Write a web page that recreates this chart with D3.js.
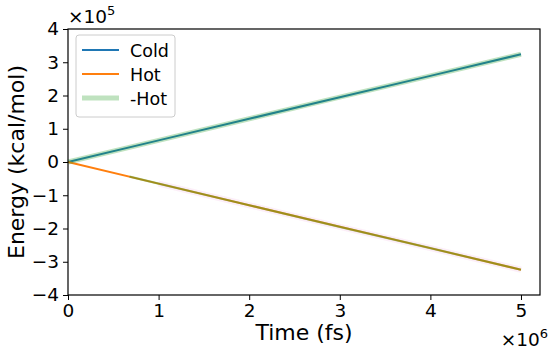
<!DOCTYPE html>
<html>
<head>
<meta charset="utf-8">
<script src="https://cdn.jsdelivr.net/npm/d3@7"></script>
<style>
body { margin: 0; background: #fff; }
text { font-family: "DejaVu Sans", sans-serif; }
</style>
</head>
<body>
<div id="chart"></div>
<script>
// data (energies in units of 1e5 kcal/mol, time in units of 1e6 fs)
var time = [0, 1, 2, 3, 4, 5];
var cold = [0, 0.65, 1.3, 1.95, 2.59, 3.24];
var hot = [0, -0.65, -1.3, -1.95, -2.59, -3.24];
var negHot = [0, 0.65, 1.3, 1.95, 2.59, 3.24];
var xTicks = [0, 1, 2, 3, 4, 5];
var yTicks = [-4, -3, -2, -1, 0, 1, 2, 3, 4];

var width = 550, height = 352;
var margin = {top: 29, right: 10, bottom: 57, left: 68};

var svg = d3.select("#chart").append("svg")
    .attr("width", width)
    .attr("height", height);

var xScale = d3.scaleLinear()
    .domain([0, 5.21])
    .range([margin.left, width - margin.right]);

var yScale = d3.scaleLinear()
    .domain([-4, 4])
    .range([height - margin.bottom, margin.top]);

var line = d3.line()
    .x(function(d) { return xScale(d[0]); })
    .y(function(d) { return yScale(d[1]); });

function pairs(xs, ys) { return xs.map(function(x, i) { return [x, ys[i]]; }); }

var plot = svg.append("g");

// faint pink halo under the hot curve
plot.append("path")
    .datum(pairs(time, hot).slice(1))
    .attr("d", line)
    .style("fill", "none")
    .style("stroke", "#e377c2")
    .style("stroke-opacity", 0.12)
    .style("stroke-width", 6);

plot.append("path")
    .datum(pairs(time, cold))
    .attr("d", line)
    .style("fill", "none")
    .style("stroke", "#1f77b4")
    .style("stroke-width", 2);

plot.append("path")
    .datum(pairs(time, hot))
    .attr("d", line)
    .style("fill", "none")
    .style("stroke", "#ff7f0e")
    .style("stroke-width", 2);

// green overlay on most of the hot curve
var hotTail = [[0.68, -0.44]].concat(pairs(time, hot).slice(1));
plot.append("path")
    .datum(hotTail)
    .attr("d", line)
    .style("fill", "none")
    .style("stroke", "#2ca02c")
    .style("stroke-opacity", 0.45)
    .style("stroke-width", 2.2);

plot.append("path")
    .datum(pairs(time, negHot))
    .attr("d", line)
    .style("fill", "none")
    .style("stroke", "#2ca02c")
    .style("stroke-opacity", 0.3)
    .style("stroke-width", 5);

// frame
svg.append("rect")
    .attr("x", margin.left)
    .attr("y", margin.top)
    .attr("width", width - margin.right - margin.left)
    .attr("height", height - margin.bottom - margin.top)
    .style("fill", "none")
    .style("stroke", "#000")
    .style("stroke-width", 1.2);

var xAxis = svg.append("g")
    .attr("transform", "translate(0," + (height - margin.bottom) + ")")
    .call(d3.axisBottom(xScale).tickValues(xTicks).tickFormat(d3.format("d")).tickSize(5).tickPadding(4));
var yAxis = svg.append("g")
    .attr("transform", "translate(" + margin.left + ",0)")
    .call(d3.axisLeft(yScale).tickValues(yTicks).tickFormat(function(d) { return d < 0 ? "\u2212" + Math.abs(d) : d; }).tickSize(5).tickPadding(4));

[xAxis, yAxis].forEach(function(a) {
  a.select(".domain").remove();
  a.selectAll("line").style("stroke", "#000").style("stroke-width", 1);
  a.selectAll("text").style("font-family", "DejaVu Sans").style("font-size", "18.5px").style("fill", "#000");
});

// offset labels
svg.append("text")
    .attr("x", 68).attr("y", 23)
    .style("font-size", "18.5px")
    .html("\u00d710<tspan dy='-8' font-size='13px'>5</tspan>");
svg.append("text")
    .attr("x", 548).attr("y", 346)
    .attr("text-anchor", "end")
    .style("font-size", "18.5px")
    .html("\u00d710<tspan dy='-8' font-size='13px'>6</tspan>");

// axis titles
svg.append("text")
    .attr("x", (margin.left + width - margin.right) / 2)
    .attr("y", 340)
    .attr("text-anchor", "middle")
    .style("font-size", "22px")
    .text("Time (fs)");
svg.append("text")
    .attr("transform", "translate(24," + ((margin.top + height - margin.bottom) / 2) + ") rotate(-90)")
    .attr("text-anchor", "middle")
    .style("font-size", "22px")
    .text("Energy (kcal/mol)");

// legend
var legendItems = [
  {label: "Cold", color: "#1f77b4", width: 2, opacity: 1},
  {label: "Hot", color: "#ff7f0e", width: 2, opacity: 1},
  {label: "-Hot", color: "#2ca02c", width: 5, opacity: 0.3}
];
var legend = svg.append("g");
legend.append("rect")
    .attr("x", 76).attr("y", 35)
    .attr("width", 99).attr("height", 82)
    .attr("rx", 3)
    .style("fill", "#fff")
    .style("fill-opacity", 0.8)
    .style("stroke", "#ccc")
    .style("stroke-width", 1);
legendItems.forEach(function(d, i) {
  var y = 50 + i * 24;
  legend.append("line")
      .attr("x1", 82).attr("x2", 119)
      .attr("y1", y).attr("y2", y)
      .style("stroke", d.color)
      .style("stroke-opacity", d.opacity)
      .style("stroke-width", d.width);
  legend.append("text")
      .attr("x", 130).attr("y", y + 6.5)
      .style("font-size", "17.5px")
      .text(d.label);
});
</script>
</body>
</html>
